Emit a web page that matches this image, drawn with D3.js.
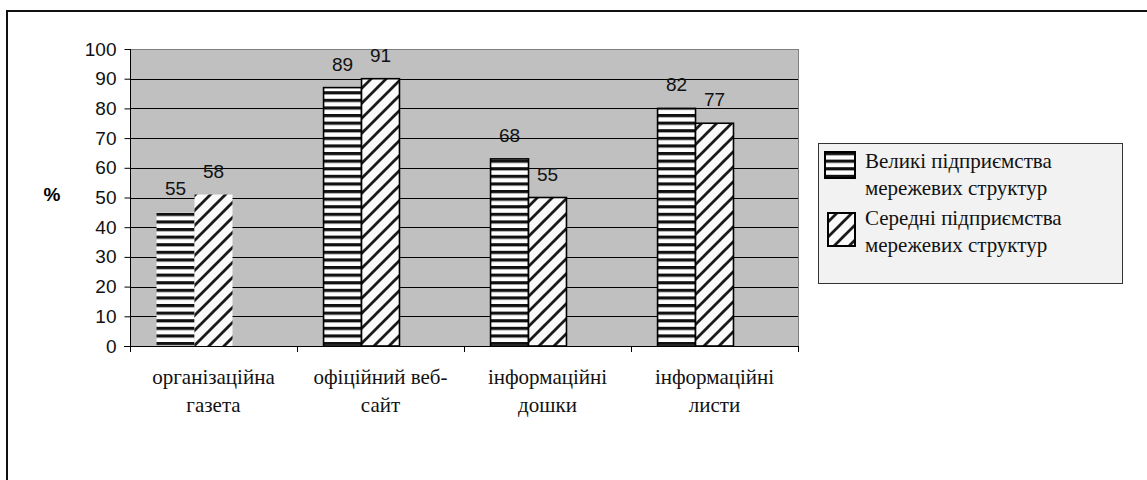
<!DOCTYPE html>
<html><head><meta charset="utf-8">
<script src="https://cdn.jsdelivr.net/npm/d3@7"></script>
<style>body{margin:0;background:#fff}svg{display:block}</style>
</head><body>
<script>
const categories = [["організаційна","газета"],["офіційний веб-","сайт"],["інформаційні","дошки"],["інформаційні","листи"]];
const seriesNames = [["Великі підприємства","мережевих структур"],["Середні підприємства","мережевих структур"]];
const largeBars = [45, 87, 63, 80];
const mediumBars = [51, 90, 50, 75];
const largeLabels = [55, 89, 68, 82];
const mediumLabels = [58, 91, 55, 77];
const yTicks = [0,10,20,30,40,50,60,70,80,90,100];

const SANS = "Liberation Sans";
const SERIF = "Liberation Serif";

const W = 1147, H = 480;
const svg = d3.select("body").append("svg").attr("width", W).attr("height", H);
const defs = svg.append("defs");
const ps = defs.append("pattern").attr("id","stripes").attr("patternUnits","userSpaceOnUse")
  .attr("width",10).attr("height",7.6);
ps.append("rect").attr("width",10).attr("height",7.6).attr("fill","#fff");
ps.append("rect").attr("y",0).attr("width",10).attr("height",3.2).attr("fill","#111");
const ph = defs.append("pattern").attr("id","hatch").attr("patternUnits","userSpaceOnUse")
  .attr("width",15).attr("height",15);
ph.append("rect").attr("width",15).attr("height",15).attr("fill","#fafafa");
ph.append("path").attr("d","M0,15L15,0M-4,4L4,-4M11,19L19,11").attr("stroke","#1a1a1a").attr("stroke-width",2.8);

svg.append("rect").attr("x",7).attr("y",11).attr("width",1160).attr("height",500)
  .attr("fill","none").attr("stroke","#111").attr("stroke-width",2);

const L = 130, R = 798, T = 49, B = 346;
const y = d3.scaleLinear().domain([0,100]).range([B,T]);
const x0 = d3.scaleBand().domain(d3.range(categories.length)).range([L,R]).paddingInner(0).paddingOuter(0);
const x1 = d3.scaleBand().domain([0,1,2]).range([0,x0.bandwidth()]).paddingInner(0).paddingOuter(0.7);

svg.append("rect").attr("x",L).attr("y",T).attr("width",R-L).attr("height",B-T).attr("fill","#c0c0c0");
svg.append("g").selectAll("line").data(yTicks.filter(d=>d>0)).join("line")
  .attr("x1",L).attr("x2",R).attr("y1",d=>Math.round(y(d))+0.5).attr("y2",d=>Math.round(y(d))+0.5)
  .attr("stroke",d=>d===100?"#808080":"#000").attr("stroke-width",1);
svg.append("line").attr("x1",R+0.5).attr("x2",R+0.5).attr("y1",T).attr("y2",B).attr("stroke","#808080");

const series = [
  {bars: largeBars, labels: largeLabels, fill: "url(#stripes)"},
  {bars: mediumBars, labels: mediumLabels, fill: "url(#hatch)"}
];
series.forEach((s, si) => {
  const g = svg.append("g");
  g.selectAll("rect").data(s.bars).join("rect")
    .attr("x",(d,i)=>x0(i)+x1(si)).attr("width",x1.bandwidth())
    .attr("y",d=>y(d)).attr("height",d=>y(0)-y(d))
    .attr("fill",s.fill)
    .attr("stroke",(d,i)=>i===0?"none":"#000").attr("stroke-width",1.6);
  g.selectAll("text").data(s.labels).join("text")
    .style("font-family",SANS).style("font-size","19px")
    .attr("x",(d,i)=>x0(i)+x1(si)+x1.bandwidth()/2)
    .attr("y",(d,i)=>y(s.bars[i])-17)
    .attr("text-anchor","middle")
    .attr("fill","#111").text(d=>d);
});

const yAxis = d3.axisLeft(y).tickValues(yTicks).tickSize(6).tickPadding(8);
const ya = svg.append("g").attr("transform",`translate(${L+0.5},0)`).call(yAxis);
ya.select(".domain").attr("stroke","#000").attr("d",`M0,${T}V${B}`);
ya.selectAll("line").attr("stroke","#000");
ya.selectAll("text").style("font-family",SANS).style("font-size","19px").attr("fill","#111");

svg.append("line").attr("x1",L-6).attr("x2",R).attr("y1",B+0.5).attr("y2",B+0.5).attr("stroke","#000");
svg.append("g").selectAll("line").data(d3.range(categories.length+1)).join("line")
  .attr("x1",i=>Math.round(L+i*x0.step())+0.5).attr("x2",i=>Math.round(L+i*x0.step())+0.5)
  .attr("y1",B).attr("y2",B+6).attr("stroke","#000");
const cl = svg.append("g").selectAll("text").data(categories).join("text")
  .style("font-family",SERIF).style("font-size","21px")
  .attr("text-anchor","middle").attr("fill","#111");
cl.each(function(d,i){
  const t = d3.select(this);
  d.forEach((line,k)=>t.append("tspan").attr("x",x0(i)+x0.bandwidth()/2).attr("y",384+k*28).text(line));
});

svg.append("text").attr("x",52).attr("y",201).attr("text-anchor","middle")
  .style("font-family",SANS).style("font-weight","bold").style("font-size","19px").text("%");

const lg = svg.append("g");
lg.append("rect").attr("x",818.5).attr("y",143.5).attr("width",304).attr("height",140)
  .attr("fill","#f2f2f2").attr("stroke","#333");
const sw = [{x:825,y:152,w:30,h:26,f:"url(#stripes)"},{x:828,y:213,w:27,h:33,f:"url(#hatch)"}];
sw.forEach(s=>lg.append("rect").attr("x",s.x).attr("y",s.y).attr("width",s.w).attr("height",s.h)
  .attr("fill",s.f).attr("stroke","#000").attr("stroke-width",2));
const base = [168, 225];
seriesNames.forEach((n,i)=>{
  n.forEach((line,k)=>lg.append("text").attr("x",865).attr("y",base[i]+k*27)
    .style("font-family",SERIF).style("font-size","21px").attr("fill","#111").text(line));
});
</script>
</body></html>
